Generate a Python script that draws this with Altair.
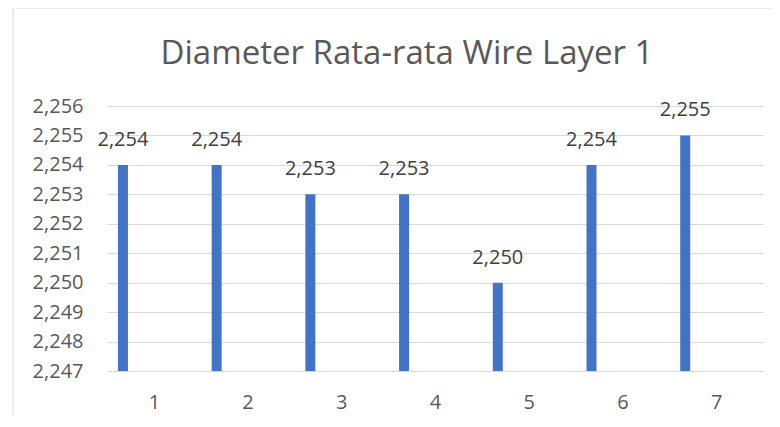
import altair as alt
import pandas as pd

categories = [1, 2, 3, 4, 5, 6, 7]
values = [2.254, 2.254, 2.253, 2.253, 2.250, 2.254, 2.255]
y_ticks = [2.247, 2.248, 2.249, 2.250, 2.251, 2.252, 2.253, 2.254, 2.255, 2.256]

bar_offset = -0.33  # Excel-style clustered offset of the single visible series

df = pd.DataFrame({"cat": categories, "val": values})
df["xpos"] = df["cat"] + bar_offset
df["label"] = df["val"].map(lambda v: f"{v:.3f}".replace(".", ","))

W, H = 656, 265
FONT = "Open Sans"
GREY = "#595959"

x_scale = alt.Scale(domain=[0.5, 7.5], nice=False, zero=False, padding=0)
y_scale = alt.Scale(domain=[2.247, 2.256], nice=False, zero=False)

x_enc = alt.X("xpos:Q", scale=x_scale,
              axis=alt.Axis(values=categories, title=None, grid=False, ticks=False,
                            domain=True, domainColor="#d9d9d9", labelFontSize=20,
                            labelColor=GREY, labelFont=FONT, labelPadding=21,
                            labelOverlap=False, labelExpr="datum.value"))
y_enc = alt.Y("val:Q", scale=y_scale,
              axis=alt.Axis(values=y_ticks, title=None, grid=True, gridColor="#d9d9d9",
                            ticks=False, domain=False, labelFontSize=20, labelColor=GREY,
                            labelFont=FONT, labelPadding=24, labelOverlap=False,
                            labelExpr="replace(format(datum.value, '.3f'), '.', ',')"))

base = alt.Chart(df)

bars = base.mark_bar(size=10, color="#4472C4").encode(
    x=x_enc,
    y=y_enc,
    y2=alt.datum(2.247),
)

labels = base.mark_text(fontSize=20, font=FONT, color="#404040", baseline="middle", dy=-25).encode(
    x=x_enc,
    y=y_enc,
    text="label:N",
)

border = alt.Chart(df.head(1)).mark_rect(fill=None, stroke="#d9d9d9", strokeWidth=1).encode(
    x=alt.value(-94), x2=alt.value(W + 200), y=alt.value(-98), y2=alt.value(H + 200)
)

chart = alt.layer(border, bars, labels).properties(
    width=W, height=H,
    autosize=alt.AutoSizeParams(type="none"),
    padding={"left": 99, "top": 98, "right": 9, "bottom": 44},
    title=alt.TitleParams("Diameter Rata-rata Wire Layer 1", fontSize=33, font=FONT,
                          fontWeight="normal", color=GREY, anchor="middle", dx=-28,
                          offset=-63),
).configure_view(stroke=None).configure_axis(labelOverlap=False)

chart.save("out.html", embed_options={"renderer": "svg", "actions": False})
